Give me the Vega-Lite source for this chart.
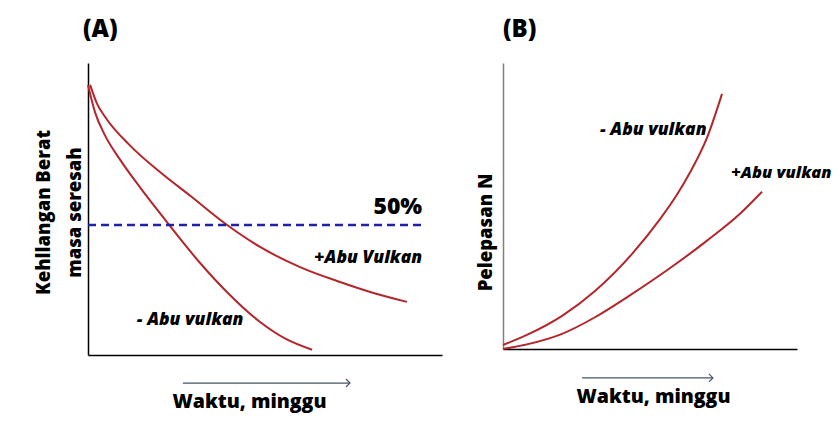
{
  "$schema": "https://vega.github.io/schema/vega-lite/v6.json",
  "autosize": {"type": "none"},
  "padding": {"left": 88, "top": 63, "right": 752, "bottom": 366},
  "background": "white",
  "spacing": 61,
  "bounds": "flush",
  "config": {
    "view": {"stroke": null},
    "font": "Open Sans",
    "axis": {
      "ticks": false,
      "labels": false,
      "grid": false,
      "domainColor": "#000000",
      "domainWidth": 1.5,
      "titleFont": "Open Sans",
      "titleFontWeight": 800,
      "titleFontSize": 18.5,
      "titleColor": "#000000"
    },
    "axisX": {"titleFontSize": 19.5},
    "title": {"font": "Open Sans", "fontSize": 24, "fontWeight": 800, "color": "#000000", "anchor": "start", "frame": "group", "baseline": "alphabetic", "offset": 21}
  },
  "datasets": {
    "a": [
      {"series": "- Abu vulkan", "x": 0, "y": 92.5},
      {"series": "- Abu vulkan", "x": 2.0, "y": 83.1},
      {"series": "- Abu vulkan", "x": 4.8, "y": 75.2},
      {"series": "- Abu vulkan", "x": 9.0, "y": 67.0},
      {"series": "- Abu vulkan", "x": 14.7, "y": 57.4},
      {"series": "- Abu vulkan", "x": 21.8, "y": 46.3},
      {"series": "- Abu vulkan", "x": 31.6, "y": 31.6},
      {"series": "- Abu vulkan", "x": 39.3, "y": 21.5},
      {"series": "- Abu vulkan", "x": 48.6, "y": 11.3},
      {"series": "- Abu vulkan", "x": 55.9, "y": 5.5},
      {"series": "- Abu vulkan", "x": 63.3, "y": 1.8},
      {"series": "+ Abu Vulkan", "x": 0.6, "y": 92.5},
      {"series": "+ Abu Vulkan", "x": 2.5, "y": 86.2},
      {"series": "+ Abu Vulkan", "x": 4.8, "y": 81.6},
      {"series": "+ Abu Vulkan", "x": 11.9, "y": 71.7},
      {"series": "+ Abu Vulkan", "x": 21.2, "y": 61.8},
      {"series": "+ Abu Vulkan", "x": 28.8, "y": 54.6},
      {"series": "+ Abu Vulkan", "x": 39.3, "y": 44.5},
      {"series": "+ Abu Vulkan", "x": 48.6, "y": 37.0},
      {"series": "+ Abu Vulkan", "x": 59.9, "y": 30.1},
      {"series": "+ Abu Vulkan", "x": 71.2, "y": 25.0},
      {"series": "+ Abu Vulkan", "x": 79.7, "y": 21.6},
      {"series": "+ Abu Vulkan", "x": 90.1, "y": 18.2}
    ],
    "b": [
      {"series": "- Abu vulkan", "x": 0, "y": 1.4},
      {"series": "- Abu vulkan", "x": 8.5, "y": 5.1},
      {"series": "- Abu vulkan", "x": 20.1, "y": 11.6},
      {"series": "- Abu vulkan", "x": 31.3, "y": 20.3},
      {"series": "- Abu vulkan", "x": 44.2, "y": 33.6},
      {"series": "- Abu vulkan", "x": 53.4, "y": 45.4},
      {"series": "- Abu vulkan", "x": 59.2, "y": 54.0},
      {"series": "- Abu vulkan", "x": 63.6, "y": 61.7},
      {"series": "- Abu vulkan", "x": 69.4, "y": 73.9},
      {"series": "- Abu vulkan", "x": 74.5, "y": 89.2},
      {"series": "+ Abu vulkan", "x": 0, "y": 0},
      {"series": "+ Abu vulkan", "x": 8.5, "y": 1.7},
      {"series": "+ Abu vulkan", "x": 20.1, "y": 5.3},
      {"series": "+ Abu vulkan", "x": 31.3, "y": 11.1},
      {"series": "+ Abu vulkan", "x": 42.5, "y": 18.3},
      {"series": "+ Abu vulkan", "x": 57.8, "y": 29.0},
      {"series": "+ Abu vulkan", "x": 69.4, "y": 37.9},
      {"series": "+ Abu vulkan", "x": 80.6, "y": 47.3},
      {"series": "+ Abu vulkan", "x": 88.1, "y": 55.0}
    ]
  },
  "hconcat": [
    {
      "width": 354,
      "height": 292,
      "title": {"text": "(A)", "dx": -5},
      "layer": [
        {
          "data": {"name": "a"},
          "mark": {"type": "line", "color": "#b3262b", "strokeWidth": 2, "interpolate": "monotone"},
          "encoding": {
            "x": {"field": "x", "type": "quantitative", "scale": {"domain": [0, 100], "nice": false, "zero": false},
                  "axis": {"title": "Waktu, minggu", "titlePadding": 37, "titleX": 161}},
            "y": {"field": "y", "type": "quantitative", "scale": {"domain": [0, 100], "nice": false},
                  "axis": {"title": ["Kehllangan Berat", "masa seresah"], "titlePadding": 4, "titleLineHeight": 31, "titleY": 149}},
            "detail": {"field": "series"}
          }
        },
        {
          "data": {"values": [{}]},
          "mark": {"type": "rule", "color": "#1f22a8", "strokeWidth": 2.5, "strokeDash": [8, 5]},
          "encoding": {"x": {"datum": 0}, "x2": {"datum": 94.4}, "y": {"datum": 44.5}}
        },
        {
          "data": {"values": [{}]},
          "mark": {"type": "text", "text": "50%", "align": "right", "baseline": "alphabetic", "fontSize": 23, "fontWeight": 800, "color": "#000000"},
          "encoding": {"x": {"datum": 94.4}, "y": {"datum": 48.3}}
        },
        {
          "data": {"values": [{}]},
          "mark": {"type": "text", "text": "+Abu Vulkan", "align": "right", "baseline": "alphabetic", "fontSize": 17.5, "fontWeight": 800, "fontStyle": "italic", "color": "#000000"},
          "encoding": {"x": {"datum": 94.4}, "y": {"datum": 31.5}}
        },
        {
          "data": {"values": [{}]},
          "mark": {"type": "text", "text": "-  Abu vulkan", "align": "left", "baseline": "alphabetic", "fontSize": 17.5, "fontWeight": 800, "fontStyle": "italic", "color": "#000000"},
          "encoding": {"x": {"datum": 13.8}, "y": {"datum": 10.3}}
        },
        {
          "data": {"values": [{}]},
          "mark": {"type": "rule", "color": "#44546a", "strokeWidth": 1.2},
          "encoding": {"x": {"datum": 26.8}, "x2": {"datum": 74}, "y": {"datum": -9.6}}
        },
        {
          "data": {"values": [{}]},
          "mark": {"type": "point", "shape": "M-1,-1L0,0L-1,1", "filled": false, "size": 64, "color": "#44546a", "strokeWidth": 1.2, "opacity": 1},
          "encoding": {"x": {"datum": 74}, "y": {"datum": -9.6}}
        }
      ]
    },
    {
      "width": 294,
      "height": 286,
      "title": {"text": "(B)", "dx": 0},
      "layer": [
        {
          "data": {"name": "b"},
          "mark": {"type": "line", "color": "#b3262b", "strokeWidth": 2, "interpolate": "monotone"},
          "encoding": {
            "x": {"field": "x", "type": "quantitative", "scale": {"domain": [0, 100], "nice": false, "zero": false},
                  "axis": {"title": "Waktu, minggu", "titlePadding": 38, "titleX": 150}},
            "y": {"field": "y", "type": "quantitative", "scale": {"domain": [0, 100], "nice": false},
                  "axis": {"title": "Pelepasan N", "titlePadding": 8, "titleY": 169, "domainColor": "#808080"}},
            "detail": {"field": "series"}
          }
        },
        {
          "data": {"values": [{}]},
          "mark": {"type": "text", "text": "-  Abu vulkan", "align": "left", "baseline": "alphabetic", "fontSize": 17.5, "fontWeight": 800, "fontStyle": "italic", "color": "#000000"},
          "encoding": {"x": {"datum": 33}, "y": {"datum": 74.8}}
        },
        {
          "data": {"values": [{}]},
          "mark": {"type": "text", "text": "+Abu vulkan", "align": "left", "baseline": "alphabetic", "fontSize": 16.5, "fontWeight": 800, "fontStyle": "italic", "color": "#000000"},
          "encoding": {"x": {"datum": 77.6}, "y": {"datum": 59.8}}
        },
        {
          "data": {"values": [{}]},
          "mark": {"type": "rule", "color": "#44546a", "strokeWidth": 1.2},
          "encoding": {"x": {"datum": 26.9}, "x2": {"datum": 71.4}, "y": {"datum": -10.1}}
        },
        {
          "data": {"values": [{}]},
          "mark": {"type": "point", "shape": "M-1,-1L0,0L-1,1", "filled": false, "size": 64, "color": "#44546a", "strokeWidth": 1.2, "opacity": 1},
          "encoding": {"x": {"datum": 71.4}, "y": {"datum": -10.1}}
        }
      ]
    }
  ]
}
